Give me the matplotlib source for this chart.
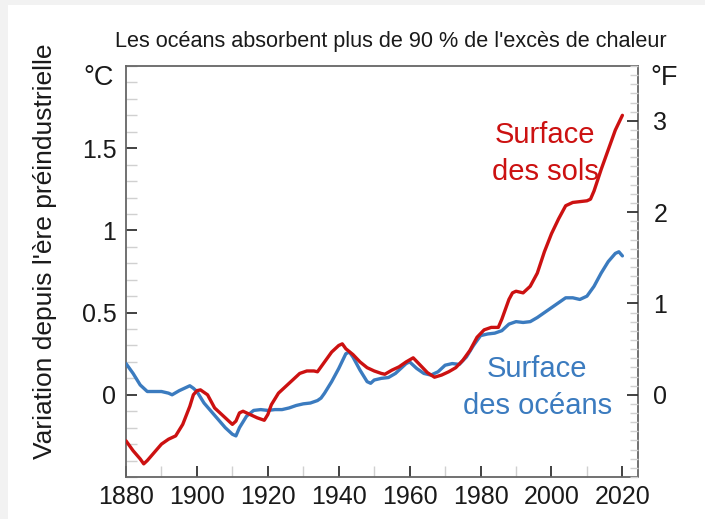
import matplotlib
matplotlib.use("Agg")
import matplotlib.pyplot as plt
from matplotlib.ticker import MultipleLocator, FixedLocator
import matplotlib.patches as mpatches

# ---- data (smoothed anomalies vs pre-industrial, °C) ----
ocean_years = [1880, 1882, 1884, 1886, 1888, 1890, 1892, 1893, 1895, 1897, 1898, 1899, 1900,
               1902, 1904, 1906, 1908, 1910, 1911, 1912, 1914, 1916, 1918, 1920, 1922, 1924,
               1926, 1928, 1930, 1932, 1934, 1935, 1936, 1938, 1940, 1942, 1943, 1944, 1946,
               1948, 1949, 1950, 1952, 1954, 1956, 1958, 1959, 1960, 1962, 1964, 1966, 1968,
               1970, 1972, 1974, 1976, 1978, 1980, 1982, 1984, 1986, 1988, 1990, 1992, 1994,
               1996, 1998, 2000, 2002, 2004, 2006, 2008, 2010, 2012, 2014, 2016, 2018, 2019, 2020]
ocean_vals = [0.19, 0.13, 0.06, 0.02, 0.02, 0.02, 0.01, 0.0, 0.025, 0.045, 0.055, 0.04, 0.02,
              -0.05, -0.10, -0.15, -0.20, -0.24, -0.25, -0.20, -0.13, -0.095, -0.09, -0.095, -0.09, -0.09,
              -0.08, -0.065, -0.055, -0.05, -0.035, -0.02, 0.01, 0.08, 0.16, 0.25, 0.26, 0.23, 0.15,
              0.08, 0.07, 0.09, 0.10, 0.105, 0.13, 0.17, 0.19, 0.20, 0.16, 0.13, 0.12, 0.14,
              0.18, 0.19, 0.185, 0.23, 0.30, 0.36, 0.37, 0.375, 0.39, 0.43, 0.445, 0.44, 0.445,
              0.47, 0.50, 0.53, 0.56, 0.59, 0.59, 0.58, 0.60, 0.66, 0.74, 0.81, 0.86, 0.87, 0.845]

land_years = [1880, 1882, 1884, 1885, 1886, 1888, 1890, 1892, 1894, 1896, 1898, 1899, 1900, 1901,
              1903, 1905, 1907, 1909, 1910, 1911, 1912, 1913, 1915, 1917, 1919, 1920, 1921, 1923,
              1925, 1927, 1929, 1931, 1933, 1934, 1936, 1938, 1940, 1941, 1942, 1944, 1946, 1948,
              1950, 1952, 1953, 1955, 1957, 1959, 1961, 1963, 1965, 1967, 1969, 1971, 1973, 1975,
              1977, 1979, 1981, 1983, 1985, 1986, 1988, 1989, 1990, 1992, 1994, 1996, 1998, 2000,
              2002, 2004, 2006, 2008, 2010, 2011, 2012, 2014, 2016, 2018, 2020]
land_vals = [-0.28, -0.34, -0.39, -0.42, -0.40, -0.35, -0.30, -0.27, -0.25, -0.18, -0.07, 0.0, 0.025, 0.03,
             0.0, -0.08, -0.12, -0.16, -0.18, -0.16, -0.11, -0.10, -0.12, -0.14, -0.155, -0.12, -0.06, 0.01,
             0.05, 0.09, 0.13, 0.145, 0.145, 0.14, 0.20, 0.26, 0.30, 0.31, 0.28, 0.245, 0.20, 0.165,
             0.145, 0.13, 0.125, 0.15, 0.17, 0.20, 0.225, 0.18, 0.135, 0.107, 0.12, 0.14, 0.165, 0.21,
             0.27, 0.35, 0.395, 0.41, 0.41, 0.46, 0.58, 0.62, 0.63, 0.62, 0.66, 0.74, 0.87, 0.98,
             1.07, 1.15, 1.17, 1.175, 1.18, 1.19, 1.24, 1.37, 1.49, 1.61, 1.70]

x_ticks = [1880, 1900, 1920, 1940, 1960, 1980, 2000, 2020]
c_ticks = [0, 0.5, 1, 1.5]
c_tick_labels = ["0", "0.5", "1", "1.5"]
f_ticks = [0, 1, 2, 3]

title = "Les océans absorbent plus de 90 % de l'excès de chaleur"
ylabel = "Variation depuis l'ère préindustrielle"

RED = "#cc1111"
BLUE = "#3b7bbf"
TXT = "#1a1a1a"
FONT = ["Liberation Sans", "DejaVu Sans"]
plt.rcParams["font.family"] = FONT

fig = plt.figure(figsize=(7.05, 5.19), dpi=100)
fig.patch.set_facecolor("white")
# light page border like the screenshot
fig.patches.append(mpatches.Rectangle((0, 1 - 5 / 519), 1, 5 / 519, transform=fig.transFigure,
                                      facecolor="#f2f2f2", edgecolor="none", zorder=0))
fig.patches.append(mpatches.Rectangle((0, 0), 8 / 705, 1, transform=fig.transFigure,
                                      facecolor="#f2f2f2", edgecolor="none", zorder=0))

ax = fig.add_axes([126 / 705, 1 - 477 / 519, (638 - 126) / 705, (477 - 66) / 519])
ax.plot(ocean_years, ocean_vals, color=BLUE, lw=2.4, solid_capstyle="round",
        solid_joinstyle="round", zorder=3)
ax.plot(land_years, land_vals, color=RED, lw=2.4, solid_capstyle="round",
        solid_joinstyle="round", zorder=4)

ax.set_xlim(1880, 2024.4)
ax.set_ylim(-0.5, 2.0)

for s in ax.spines.values():
    s.set_color("#666666")
    s.set_linewidth(1.3)

ax.xaxis.set_major_locator(FixedLocator(x_ticks))
ax.xaxis.set_minor_locator(MultipleLocator(10))
ax.yaxis.set_major_locator(FixedLocator(c_ticks))
ax.set_yticklabels(c_tick_labels)
ax.yaxis.set_minor_locator(MultipleLocator(0.1))
ax.tick_params(axis="both", which="major", direction="in", length=8, width=1.3,
               color="#333333", labelsize=18, labelcolor=TXT, pad=6)
ax.tick_params(axis="y", which="major", pad=7)
ax.tick_params(axis="both", which="minor", direction="in", length=8, width=1.0, color="#d0d0d0")
ax.tick_params(axis="x", which="both", top=False)
ax.tick_params(axis="y", which="both", right=False)

# Fahrenheit axis
ax2 = ax.twinx()
ax2.set_ylim(-0.5 * 1.8, 2.0 * 1.8)
ax2.yaxis.set_major_locator(FixedLocator(f_ticks))
ax2.yaxis.set_minor_locator(MultipleLocator(0.1))
ax2.tick_params(axis="y", which="major", direction="in", length=8, width=1.3,
                color="#333333", labelsize=18, labelcolor=TXT, pad=11)
ax2.tick_params(axis="y", which="minor", direction="in", length=6, width=1.0, color="#d0d0d0")
for s in ax2.spines.values():
    s.set_visible(False)

fig.text(391 / 705, 1 - 47 / 519, title, ha="center", va="baseline", fontsize=15.6, color=TXT)
fig.text(99 / 705, 1 - 78 / 519, "°C", ha="center", va="center", fontsize=19.5, color=TXT)
fig.text(664 / 705, 1 - 78 / 519, "°F", ha="center", va="center", fontsize=19.5, color=TXT)
fig.text(45 / 705, 1 - 251 / 519, ylabel, ha="center", va="center", rotation=90,
         fontsize=19, color=TXT)

ax.text(1998.2, 1.47, "Surface\ndes sols", color=RED, ha="center", va="center",
        fontsize=21, linespacing=1.4)
ax.text(1996.0, 0.045, "Surface\ndes océans", color=BLUE, ha="center", va="center",
        fontsize=21, linespacing=1.4)

fig.savefig("out.png", dpi=100)
